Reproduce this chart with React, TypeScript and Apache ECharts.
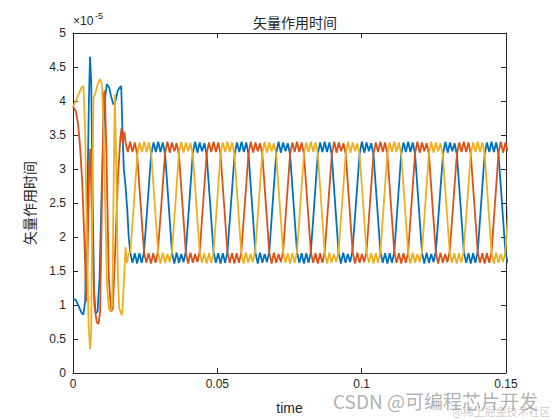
import React, { useEffect, useRef } from "react";
import * as echarts from "echarts";

const xTicks = [0, 0.05, 0.1, 0.15];
const yTicks = [0, 0.5, 1, 1.5, 2, 2.5, 3, 3.5, 4, 4.5, 5];

const blue: [number, number][] = [
  [0,1.1],[0.001,1.07],[0.002,0.98],[0.003,0.88],[0.0036,0.86],[0.0042,1.05],[0.005,2.6],[0.0055,4.0],[0.0059,4.65],[0.0063,4.3],[0.0068,2.6],[0.0073,1.2],[0.0078,0.88],[0.0085,0.9],[0.0092,1.4],[0.01,2.8],[0.011,4.0],[0.0117,4.25],[0.0125,4.2],[0.0133,4.05],[0.014,3.95],[0.0147,4.0],[0.0155,4.15],[0.0162,4.2],[0.0167,4.22],[0.0171,3.6],[0.0176,3.0],[0.0182,2.75],[0.0188,2.4],[0.0193,2.0],
  [0.0198,1.78],[0.0206,1.62],[0.0214,1.76],[0.0222,1.61],[0.023,1.76],[0.0238,1.62],[0.0246,1.78],
  [0.0271,3.22],[0.0279,3.39],[0.0287,3.25],[0.0295,3.4],[0.0303,3.25],[0.0311,3.39],[0.0319,3.22],
  [0.0343,1.77],[0.0351,1.61],[0.0359,1.77],[0.0367,1.62],[0.0375,1.75],[0.0383,1.63],[0.0391,1.79],
  [0.0415,3.23],[0.0423,3.4],[0.0431,3.24],[0.0439,3.39],[0.0447,3.26],[0.0455,3.38],[0.0463,3.21],
  [0.0487,1.78],[0.0495,1.62],[0.0503,1.76],[0.0511,1.61],[0.0519,1.76],[0.0527,1.62],[0.0535,1.78],
  [0.056,3.22],[0.0568,3.39],[0.0576,3.25],[0.0584,3.4],[0.0592,3.25],[0.06,3.39],[0.0608,3.22],
  [0.0632,1.77],[0.064,1.61],[0.0648,1.77],[0.0656,1.62],[0.0664,1.75],[0.0672,1.63],[0.068,1.79],
  [0.0704,3.23],[0.0712,3.4],[0.072,3.24],[0.0728,3.39],[0.0736,3.26],[0.0744,3.38],[0.0752,3.21],
  [0.0776,1.78],[0.0784,1.62],[0.0792,1.76],[0.08,1.61],[0.0808,1.76],[0.0816,1.62],[0.0824,1.78],
  [0.0848,3.22],[0.0856,3.39],[0.0864,3.25],[0.0872,3.4],[0.088,3.25],[0.0888,3.39],[0.0896,3.22],
  [0.092,1.77],[0.0928,1.61],[0.0936,1.77],[0.0944,1.62],[0.0952,1.75],[0.096,1.63],[0.0968,1.79],
  [0.0993,3.23],[0.1001,3.4],[0.1009,3.24],[0.1017,3.39],[0.1025,3.26],[0.1033,3.38],[0.1041,3.21],
  [0.1065,1.78],[0.1073,1.62],[0.1081,1.76],[0.1089,1.61],[0.1097,1.76],[0.1105,1.62],[0.1113,1.78],
  [0.1137,3.22],[0.1145,3.39],[0.1153,3.25],[0.1161,3.4],[0.1169,3.25],[0.1177,3.39],[0.1185,3.22],
  [0.1209,1.77],[0.1217,1.61],[0.1225,1.77],[0.1233,1.62],[0.1241,1.75],[0.1249,1.63],[0.1257,1.79],
  [0.1282,3.23],[0.129,3.4],[0.1298,3.24],[0.1306,3.39],[0.1314,3.26],[0.1322,3.38],[0.133,3.21],
  [0.1354,1.78],[0.1362,1.62],[0.137,1.76],[0.1378,1.61],[0.1386,1.76],[0.1394,1.62],[0.1402,1.78],
  [0.1426,3.22],[0.1434,3.39],[0.1442,3.25],[0.145,3.4],[0.1458,3.25],[0.1466,3.39],[0.1474,3.22],
  [0.1498,1.78],[0.1506,1.62],
];

const orange: [number, number][] = [
  [0,3.92],[0.001,3.85],[0.0018,3.65],[0.0025,3.3],[0.0032,2.8],[0.004,1.9],[0.0046,1.05],[0.005,1.6],[0.0056,3.0],[0.006,3.3],[0.0066,2.2],[0.0074,1.0],[0.0082,0.75],[0.0088,0.72],[0.0094,0.9],[0.01,2.5],[0.0106,4.1],[0.011,4.15],[0.0116,3.2],[0.0124,1.4],[0.0132,0.9],[0.0138,0.95],[0.0146,1.8],[0.0156,2.9],[0.0164,3.45],[0.0168,3.6],[0.0172,3.38],[0.0178,3.55],
  [0.0182,3.39],[0.019,3.25],[0.0198,3.4],[0.0206,3.25],[0.0214,3.39],[0.0222,3.22],
  [0.0246,1.78],[0.0254,1.62],[0.0262,1.76],[0.027,1.61],[0.0278,1.76],[0.0286,1.62],[0.0294,1.78],
  [0.0319,3.23],[0.0327,3.4],[0.0335,3.24],[0.0343,3.39],[0.0351,3.26],[0.0359,3.38],[0.0367,3.21],
  [0.0391,1.77],[0.0399,1.61],[0.0407,1.77],[0.0415,1.62],[0.0423,1.75],[0.0431,1.63],[0.0439,1.79],
  [0.0463,3.22],[0.0471,3.39],[0.0479,3.25],[0.0487,3.4],[0.0495,3.25],[0.0503,3.39],[0.0511,3.22],
  [0.0535,1.78],[0.0543,1.62],[0.0551,1.76],[0.0559,1.61],[0.0567,1.76],[0.0575,1.62],[0.0583,1.78],
  [0.0608,3.23],[0.0616,3.4],[0.0624,3.24],[0.0632,3.39],[0.064,3.26],[0.0648,3.38],[0.0656,3.21],
  [0.068,1.77],[0.0688,1.61],[0.0696,1.77],[0.0704,1.62],[0.0712,1.75],[0.072,1.63],[0.0728,1.79],
  [0.0752,3.22],[0.076,3.39],[0.0768,3.25],[0.0776,3.4],[0.0784,3.25],[0.0792,3.39],[0.08,3.22],
  [0.0824,1.78],[0.0832,1.62],[0.084,1.76],[0.0848,1.61],[0.0856,1.76],[0.0864,1.62],[0.0872,1.78],
  [0.0897,3.23],[0.0905,3.4],[0.0913,3.24],[0.0921,3.39],[0.0929,3.26],[0.0937,3.38],[0.0945,3.21],
  [0.0969,1.77],[0.0977,1.61],[0.0985,1.77],[0.0993,1.62],[0.1001,1.75],[0.1009,1.63],[0.1017,1.79],
  [0.1041,3.22],[0.1049,3.39],[0.1057,3.25],[0.1065,3.4],[0.1073,3.25],[0.1081,3.39],[0.1089,3.22],
  [0.1113,1.78],[0.1121,1.62],[0.1129,1.76],[0.1137,1.61],[0.1145,1.76],[0.1153,1.62],[0.1161,1.78],
  [0.1185,3.23],[0.1193,3.4],[0.1201,3.24],[0.1209,3.39],[0.1217,3.26],[0.1225,3.38],[0.1233,3.21],
  [0.1257,1.77],[0.1265,1.61],[0.1273,1.77],[0.1281,1.62],[0.1289,1.75],[0.1297,1.63],[0.1305,1.79],
  [0.133,3.22],[0.1338,3.39],[0.1346,3.25],[0.1354,3.4],[0.1362,3.25],[0.137,3.39],[0.1378,3.22],
  [0.1402,1.78],[0.141,1.62],[0.1418,1.76],[0.1426,1.61],[0.1434,1.76],[0.1442,1.62],[0.145,1.78],
  [0.1474,3.23],[0.1482,3.4],[0.149,3.24],[0.1498,3.39],[0.1506,3.26],
];

const yellow: [number, number][] = [
  [0,3.92],[0.001,4.0],[0.002,4.1],[0.003,4.2],[0.0036,4.22],[0.0042,3.6],[0.0048,2.0],[0.0054,0.7],[0.0059,0.35],[0.0063,0.6],[0.0067,2.5],[0.0071,4.05],[0.0078,4.12],[0.0086,4.26],[0.0094,4.32],[0.01,4.25],[0.0106,3.6],[0.0112,2.4],[0.0118,1.3],[0.0124,0.95],[0.013,0.9],[0.0136,1.0],[0.014,2.5],[0.0145,4.1],[0.015,3.0],[0.0155,1.5],[0.016,0.95],[0.0166,0.88],[0.017,0.85],[0.0176,1.3],[0.0182,1.85],
  [0.0187,1.62],[0.0193,1.76],[0.0199,1.78],
  [0.0223,3.22],[0.0231,3.39],[0.0239,3.25],[0.0247,3.4],[0.0255,3.25],[0.0263,3.39],[0.0271,3.22],
  [0.0295,1.77],[0.0303,1.61],[0.0311,1.77],[0.0319,1.62],[0.0327,1.75],[0.0335,1.63],[0.0343,1.79],
  [0.0367,3.23],[0.0375,3.4],[0.0383,3.24],[0.0391,3.39],[0.0399,3.26],[0.0407,3.38],[0.0415,3.21],
  [0.0439,1.78],[0.0447,1.62],[0.0455,1.76],[0.0463,1.61],[0.0471,1.76],[0.0479,1.62],[0.0487,1.78],
  [0.0511,3.22],[0.0519,3.39],[0.0527,3.25],[0.0535,3.4],[0.0543,3.25],[0.0551,3.39],[0.0559,3.22],
  [0.0583,1.77],[0.0591,1.61],[0.0599,1.77],[0.0607,1.62],[0.0615,1.75],[0.0623,1.63],[0.0631,1.79],
  [0.0656,3.23],[0.0664,3.4],[0.0672,3.24],[0.068,3.39],[0.0688,3.26],[0.0696,3.38],[0.0704,3.21],
  [0.0728,1.78],[0.0736,1.62],[0.0744,1.76],[0.0752,1.61],[0.076,1.76],[0.0768,1.62],[0.0776,1.78],
  [0.08,3.22],[0.0808,3.39],[0.0816,3.25],[0.0824,3.4],[0.0832,3.25],[0.084,3.39],[0.0848,3.22],
  [0.0872,1.77],[0.088,1.61],[0.0888,1.77],[0.0896,1.62],[0.0904,1.75],[0.0912,1.63],[0.092,1.79],
  [0.0945,3.23],[0.0953,3.4],[0.0961,3.24],[0.0969,3.39],[0.0977,3.26],[0.0985,3.38],[0.0993,3.21],
  [0.1017,1.78],[0.1025,1.62],[0.1033,1.76],[0.1041,1.61],[0.1049,1.76],[0.1057,1.62],[0.1065,1.78],
  [0.1089,3.22],[0.1097,3.39],[0.1105,3.25],[0.1113,3.4],[0.1121,3.25],[0.1129,3.39],[0.1137,3.22],
  [0.1161,1.77],[0.1169,1.61],[0.1177,1.77],[0.1185,1.62],[0.1193,1.75],[0.1201,1.63],[0.1209,1.79],
  [0.1233,3.23],[0.1241,3.4],[0.1249,3.24],[0.1257,3.39],[0.1265,3.26],[0.1273,3.38],[0.1281,3.21],
  [0.1305,1.78],[0.1313,1.62],[0.1321,1.76],[0.1329,1.61],[0.1337,1.76],[0.1345,1.62],[0.1353,1.78],
  [0.1378,3.22],[0.1386,3.39],[0.1394,3.25],[0.1402,3.4],[0.141,3.25],[0.1418,3.39],[0.1426,3.22],
  [0.145,1.77],[0.1458,1.61],[0.1466,1.77],[0.1474,1.62],[0.1482,1.75],[0.149,1.63],[0.1498,1.79],
  [0.1522,3.22],
];

const AX = "#262626";
const NUM_FONT = "Liberation Sans, Arial, sans-serif";
const CJK_FONT = "Noto Sans CJK SC, sans-serif";

export default function App() {
  const ref = useRef<HTMLDivElement>(null);
  useEffect(() => {
    if (!ref.current) return;
    const chart = echarts.init(ref.current, undefined, { renderer: "svg" });
    const baseAxis = {
      type: "value" as const,
      axisLine: { show: true, onZero: false, lineStyle: { color: AX, width: 1 } },
      axisTick: { show: true, inside: true, length: 5, lineStyle: { color: AX, width: 1 } },
      splitLine: { show: false },
    };
    const xMin = xTicks[0], xMax = xTicks[xTicks.length - 1];
    const yMin = yTicks[0], yMax = yTicks[yTicks.length - 1];
    const lineSeries = (name: string, data: [number, number][], color: string) => ({
      name, type: "line", data, showSymbol: false, symbol: "none",
      lineStyle: { color, width: 1.8 }, itemStyle: { color },
    });
    chart.setOption({
      animation: false,
      backgroundColor: "#ffffff",
      title: {
        text: "矢量作用时间",
        left: 290,
        textAlign: "center",
        top: 10,
        textStyle: { fontFamily: CJK_FONT, fontSize: 14, fontWeight: "normal", color: AX },
      },
      grid: { left: 73, top: 33, width: 433, height: 340, show: false },
      xAxis: [
        {
          ...baseAxis,
          min: xMin, max: xMax, interval: 0.05,
          axisLabel: { color: AX, fontSize: 12, margin: 5, fontFamily: NUM_FONT },
          name: "time", nameLocation: "middle", nameGap: 28,
          nameTextStyle: { color: AX, fontSize: 14, fontFamily: NUM_FONT },
        },
        {
          ...baseAxis, position: "top",
          min: xMin, max: xMax, interval: 0.05,
          axisLabel: { show: false },
        },
      ],
      yAxis: [
        {
          ...baseAxis,
          min: yMin, max: yMax, interval: 0.5,
          axisLabel: { color: AX, fontSize: 12, margin: 7, fontFamily: NUM_FONT },
          name: "矢量作用时间", nameLocation: "middle", nameGap: 37, nameRotate: 90,
          nameTextStyle: { color: AX, fontSize: 14, fontFamily: CJK_FONT },
        },
        {
          ...baseAxis, position: "right",
          min: yMin, max: yMax, interval: 0.5,
          axisLabel: { show: false },
        },
      ],
      series: [
        lineSeries("b", blue, "#0072BD"),
        lineSeries("o", orange, "#D95319"),
        lineSeries("y", yellow, "#EDB120"),
      ],
      graphic: [
        { type: "text", left: 73, top: 15, style: { text: "×10", fontSize: 12, fontFamily: NUM_FONT, fill: AX } },
        { type: "text", left: 95, top: 11, style: { text: "-5", fontSize: 9, fontFamily: NUM_FONT, fill: AX } },
        { type: "text", left: 333, top: 391, style: { text: "CSDN @可编程芯片开发", fontSize: 19, fontFamily: CJK_FONT, fill: "rgba(110,110,110,0.55)" } },
        { type: "text", left: 452, top: 405, style: { text: "@稀土掘金技术社区", fontSize: 11, fontFamily: CJK_FONT, fill: "rgba(140,140,140,0.45)" } },
      ],
    });
    return () => chart.dispose();
  }, []);
  return <div ref={ref} style={{ position: "absolute", left: 0, top: 0, width: 560, height: 420 }} />;
}
